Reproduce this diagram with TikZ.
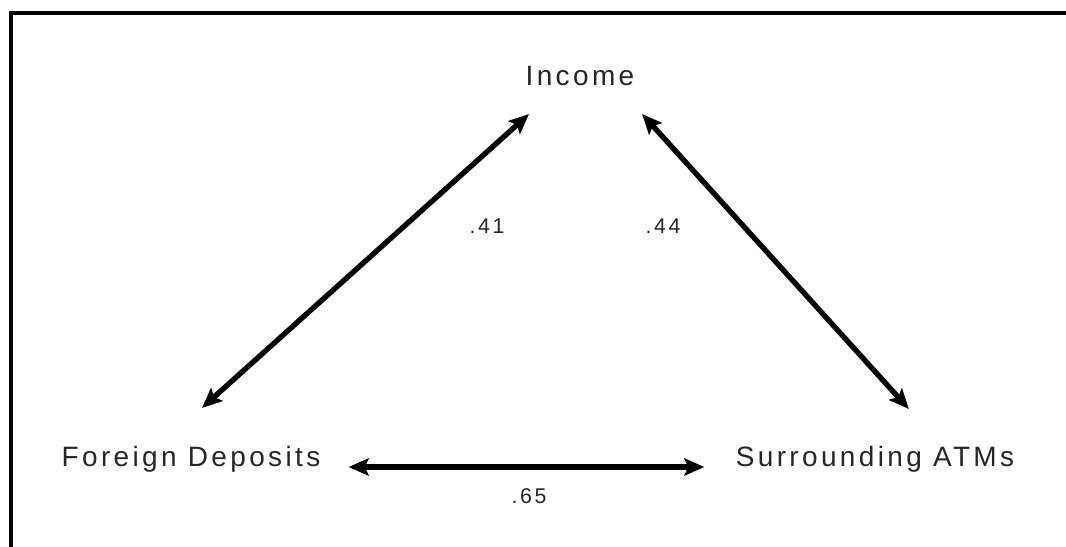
\documentclass[tikz,border=0pt]{standalone}
\usepackage{fontspec}
\setmainfont{Liberation Sans}[LetterSpace=12]
\usetikzlibrary{arrows.meta}
\tikzset{
  lbl/.style={font=\fontsize{21}{24}\selectfont, text=black!85, inner sep=0pt},
  num/.style={font=\fontsize{16}{18}\selectfont, text=black!85, inner sep=0pt},
  biarrow/.style={line width=4pt, {Stealth[length=15pt,width=13pt,inset=3pt]}-{Stealth[length=15pt,width=13pt,inset=3pt]}, shorten <=-1pt, shorten >=-1pt},
  frame/.style={line width=2.6pt}
}
\begin{document}
\begin{tikzpicture}[x=0.75pt,y=-0.75pt]
\useasboundingbox (0,0) rectangle (1066,546);
\draw[frame] (1070,13) -- (11,13) -- (11,550);
\node[lbl] (income) at (580,76) {Income};
\node[lbl] (foreign) at (191,459) {Foreign Deposits};
\node[lbl] (atm) at (875,459) {Surrounding ATMs};
\node[num] (l41) at (487,226) {.41};
\node[num] (l44) at (663,226) {.44};
\node[num] (l65) at (529,496) {.65};
\coordinate (incL) at (528,115);
\coordinate (incR) at (643,115);
\coordinate (forU) at (203,407);
\coordinate (atmU) at (908,408);
\coordinate (forR) at (350,467);
\coordinate (atmL) at (703,467);
\draw[biarrow] (forU) -- (incL);
\draw[biarrow] (incR) -- (atmU);
\draw[biarrow] (forR) -- (atmL);
\end{tikzpicture}
\end{document}
